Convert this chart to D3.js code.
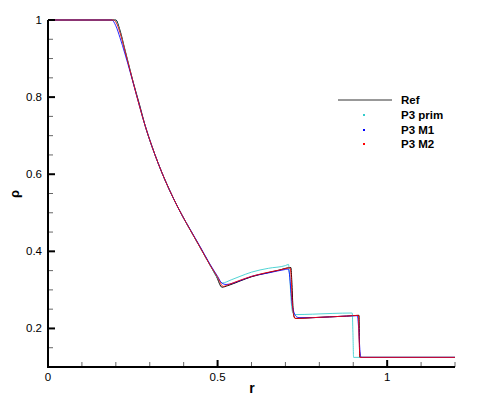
<!DOCTYPE html>
<html><head><meta charset="utf-8">
<script src="https://cdn.jsdelivr.net/npm/d3@7"></script>
<style>body{margin:0;background:#fff}svg{display:block}text{font-family:"Liberation Sans",Arial,sans-serif}</style>
</head><body><svg id="c" width="479" height="399"></svg>
<script>
// ---- data ----
const seriesNames = ["Ref", "P3 prim", "P3 M1", "P3 M2"];
const seriesColors = ["#000000", "#33cccc", "#0000ff", "#ff0000"];
const xTicksMajor = [0, 0.5, 1];
const xTickLabels = ["0", "0.5", "1"];
const yTicksMajor = [0.2, 0.4, 0.6, 0.8, 1];
const yTickLabels = ["0.2", "0.4", "0.6", "0.8", "1"];

const refR   = [0, 0.200, 0.212, 0.227, 0.242, 0.252, 0.270, 0.286, 0.305, 0.325, 0.345, 0.370, 0.395, 0.419, 0.448, 0.478, 0.497, 0.513, 0.530, 0.566, 0.600, 0.640, 0.680, 0.716, 0.719, 0.722, 0.725, 0.730, 0.780, 0.830, 0.880, 0.917, 0.919, 1.2];
const refRho = [1, 1.000, 0.974, 0.922, 0.870, 0.836, 0.780, 0.727, 0.676, 0.628, 0.585, 0.537, 0.494, 0.456, 0.411, 0.364, 0.334, 0.307, 0.311, 0.323, 0.334, 0.343, 0.351, 0.358, 0.320, 0.260, 0.232, 0.226, 0.228, 0.230, 0.232, 0.234, 0.125, 0.125];

const primR   = [0, 0.196, 0.205, 0.212, 0.227, 0.242, 0.252, 0.286, 0.325, 0.345, 0.370, 0.395, 0.419, 0.448, 0.478, 0.500, 0.514, 0.540, 0.566, 0.600, 0.650, 0.700, 0.709, 0.713, 0.717, 0.722, 0.730, 0.780, 0.840, 0.897, 0.899, 0.901, 1.2];
const primRho = [1, 1.000, 0.990, 0.970, 0.922, 0.870, 0.836, 0.727, 0.628, 0.585, 0.537, 0.494, 0.456, 0.411, 0.364, 0.331, 0.318, 0.326, 0.335, 0.346, 0.356, 0.363, 0.366, 0.330, 0.270, 0.240, 0.236, 0.237, 0.239, 0.240, 0.190, 0.125, 0.125];

const m1R   = [0, 0.188, 0.200, 0.212, 0.227, 0.242, 0.252, 0.286, 0.325, 0.345, 0.370, 0.395, 0.419, 0.448, 0.478, 0.500, 0.512, 0.525, 0.566, 0.600, 0.650, 0.700, 0.708, 0.712, 0.716, 0.720, 0.726, 0.732, 0.740, 0.780, 0.830, 0.880, 0.912, 0.916, 0.920, 0.923, 1.2];
const m1Rho = [1, 1.000, 0.985, 0.955, 0.912, 0.866, 0.834, 0.727, 0.628, 0.585, 0.537, 0.494, 0.457, 0.413, 0.366, 0.335, 0.318, 0.314, 0.324, 0.335, 0.344, 0.353, 0.354, 0.340, 0.300, 0.262, 0.240, 0.231, 0.228, 0.228, 0.230, 0.232, 0.233, 0.200, 0.140, 0.125, 0.125];

const m2R   = [0, 0.194, 0.204, 0.212, 0.227, 0.242, 0.252, 0.286, 0.325, 0.345, 0.370, 0.395, 0.419, 0.448, 0.478, 0.500, 0.517, 0.530, 0.566, 0.600, 0.640, 0.680, 0.714, 0.717, 0.720, 0.724, 0.728, 0.735, 0.780, 0.830, 0.880, 0.915, 0.917, 0.920, 1.2];
const m2Rho = [1, 1.000, 0.988, 0.968, 0.920, 0.869, 0.835, 0.727, 0.628, 0.585, 0.537, 0.494, 0.456, 0.411, 0.364, 0.333, 0.309, 0.313, 0.325, 0.335, 0.344, 0.351, 0.357, 0.330, 0.270, 0.236, 0.226, 0.226, 0.228, 0.230, 0.232, 0.234, 0.180, 0.125, 0.125];

const allR = [refR, primR, m1R, m2R];
const allRho = [refRho, primRho, m1Rho, m2Rho];

// ---- chart ----
const svg = d3.select("#c");
const x = d3.scaleLinear().domain([0, 1.2]).range([48, 455]);
const y = d3.scaleLinear().domain([0.1, 1]).range([367, 20]);

const line = d3.line().curve(d3.curveMonotoneX).x(d => x(d[0])).y(d => y(d[1]));
[0, 1, 2, 3].forEach(i => {
  const pts = allR[i].map((r, k) => [r, allRho[i][k]]);
  svg.append("path").attr("d", line(pts)).attr("fill", "none")
    .attr("stroke", seriesColors[i]).attr("stroke-width", 1).attr("stroke-opacity", i === 0 ? 1 : 0.85);
});

// axes
const g = svg.append("g");
const xMinor = d3.range(0, 1.2001, 0.1).filter(v => !xTicksMajor.some(m => Math.abs(m - v) < 1e-6));
xMinor.forEach(v => g.append("line").attr("x1", x(v)).attr("x2", x(v)).attr("y1", 367).attr("y2", 362).attr("stroke", "#666").attr("stroke-width", 1));
const yMinor = d3.range(0.1, 1.0001, 0.05).filter(v => v > 0.1 + 1e-6 && !yTicksMajor.some(m => Math.abs(m - v) < 1e-6));
yMinor.forEach(v => g.append("line").attr("x1", 48).attr("x2", 53).attr("y1", y(v)).attr("y2", y(v)).attr("stroke", "#666").attr("stroke-width", 1));
xTicksMajor.forEach(v => g.append("line").attr("x1", x(v)).attr("x2", x(v)).attr("y1", 367).attr("y2", 360).attr("stroke", "#000").attr("stroke-width", 2));
yTicksMajor.forEach(v => g.append("line").attr("x1", 48).attr("x2", 55).attr("y1", y(v)).attr("y2", y(v)).attr("stroke", "#000").attr("stroke-width", 2));
g.append("line").attr("x1", 48).attr("x2", 48).attr("y1", 20).attr("y2", 368).attr("stroke", "#000").attr("stroke-width", 2);
g.append("line").attr("x1", 47).attr("x2", 455).attr("y1", 367).attr("y2", 367).attr("stroke", "#000").attr("stroke-width", 2);

xTicksMajor.forEach((v, i) => g.append("text").attr("x", x(v)).attr("y", 381).attr("text-anchor", "middle").attr("font-size", 11.5).text(xTickLabels[i]));
yTicksMajor.forEach((v, i) => g.append("text").attr("x", 42).attr("y", y(v) + 4).attr("text-anchor", "end").attr("font-size", 11.5).text(yTickLabels[i]));

svg.append("text").attr("transform", "translate(19,194) rotate(-90)").attr("text-anchor", "middle").attr("font-size", 13).attr("font-weight", "bold").text("ρ");
svg.append("text").attr("x", 252).attr("y", 393).attr("text-anchor", "middle").attr("font-size", 14).attr("font-weight", "bold").text("r");

const lg = svg.append("g");
const legY = [100, 115, 130, 144];
lg.append("line").attr("x1", 338).attr("x2", 392).attr("y1", legY[0]).attr("y2", legY[0]).attr("stroke", "#333").attr("stroke-width", 1);
[1, 2, 3].forEach(i => lg.append("rect").attr("x", 363).attr("y", legY[i] - 1).attr("width", 2).attr("height", 2).attr("fill", seriesColors[i]));
seriesNames.forEach((n, i) => lg.append("text").attr("x", 401).attr("y", legY[i] + 4).attr("font-size", 11.5).attr("font-weight", "bold").text(n));
</script></body></html>
